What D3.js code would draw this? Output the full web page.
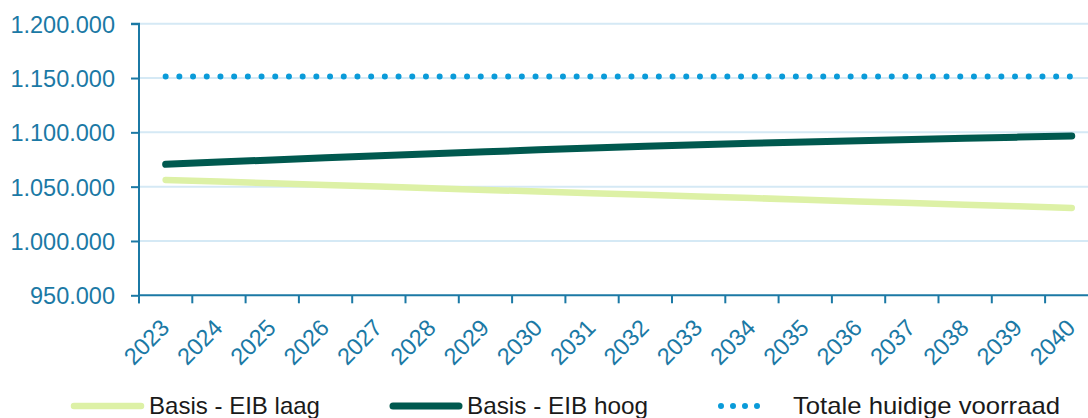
<!DOCTYPE html>
<html>
<head>
<meta charset="utf-8">
<script src="https://cdn.jsdelivr.net/npm/d3@7"></script>
<style>
  html, body { margin: 0; padding: 0; background: #fff; }
  svg { display: block; font-family: "Liberation Sans", Arial, sans-serif; }
</style>
</head>
<body>
<svg id="chart" width="1088" height="418"></svg>
<script>
// Years on the horizontal axis
const years = ["2023","2024","2025","2026","2027","2028","2029","2030","2031","2032",
               "2033","2034","2035","2036","2037","2038","2039","2040"];

// Projected demand, low scenario
const basisLaag = [1056200, 1054700, 1053100, 1051600, 1050100, 1048600, 1047000, 1045500, 1044000,
                   1042500, 1041000, 1039500, 1038000, 1036400, 1034900, 1033400, 1031900, 1030400];

// Projected demand, high scenario
const basisHoog = [1070600, 1072600, 1074600, 1076500, 1078400, 1080300, 1082100, 1083900, 1085600,
                   1087300, 1088600, 1089900, 1091100, 1092300, 1093400, 1094500, 1095600, 1096600];

// Current total stock
const totaleVoorraad = [1151500, 1151500, 1151500, 1151500, 1151500, 1151500, 1151500, 1151500, 1151500,
                        1151500, 1151500, 1151500, 1151500, 1151500, 1151500, 1151500, 1151500, 1151500];

const yTicks = [950000, 1000000, 1050000, 1100000, 1150000, 1200000];

const seriesNames = ["Basis - EIB laag", "Basis - EIB hoog", "Totale huidige voorraad"];

const axisColor = "#1b79a5";
const gridColor = "#d5e9f5";
const colLaag = "#ddf1a6";
const colHoog = "#00594f";
const colVoorraad = "#0a9bd9";

const svg = d3.select("#chart");

const plotLeft = 139, plotTop = 23.7, plotBottom = 295.3, step = 53.3;

const x = d3.scaleBand().domain(years).range([plotLeft, plotLeft + step * years.length]).padding(0);
const y = d3.scaleLinear().domain([950000, 1200000]).range([plotBottom, plotTop]);

const fmt = v => d3.format(",")(v).replace(/,/g, ".");

// horizontal gridlines
svg.append("g").selectAll("line").data(yTicks.slice(1)).join("line")
  .attr("x1", plotLeft).attr("x2", 1088)
  .attr("y1", d => y(d)).attr("y2", d => y(d))
  .attr("stroke", gridColor).attr("stroke-width", 2);

// y axis
const yAxis = svg.append("g").attr("transform", `translate(${plotLeft},0)`)
  .call(d3.axisLeft(y).tickValues(yTicks).tickFormat(fmt).tickSize(8).tickPadding(16));
yAxis.select(".domain").attr("stroke", axisColor).attr("stroke-width", 2)
  .attr("d", `M-8,${plotTop}H0V${plotBottom + 8}`);
yAxis.selectAll(".tick line").attr("stroke", axisColor).attr("stroke-width", 2);
yAxis.selectAll(".tick text").attr("fill", axisColor).attr("font-size", 23.5).attr("dy", "0.36em");

// x axis with ticks on category boundaries
const xg = svg.append("g").attr("transform", `translate(0,${plotBottom})`);
xg.append("line").attr("x1", plotLeft).attr("x2", 1100).attr("y1", 0).attr("y2", 0)
  .attr("stroke", axisColor).attr("stroke-width", 2);
const bounds = years.map(d => x(d)).concat([x(years[years.length - 1]) + x.bandwidth()]);
xg.selectAll("line.tk").data(bounds).join("line").attr("class", "tk")
  .attr("x1", d => d).attr("x2", d => d).attr("y1", 0).attr("y2", 8)
  .attr("stroke", axisColor).attr("stroke-width", 2);
xg.selectAll("text").data(years).join("text")
  .attr("transform", d => `translate(${x(d) + x.bandwidth() / 2 + 5},34) rotate(-45)`)
  .attr("text-anchor", "end")
  .attr("fill", axisColor).attr("font-size", 23.5)
  .text(d => d);

const cx = d => x(d) + x.bandwidth() / 2;
const line = d3.line().x((d, i) => cx(years[i])).y(d => y(d));

// series lines
svg.append("path").datum(totaleVoorraad).attr("d", line)
  .attr("fill", "none").attr("stroke", colVoorraad).attr("stroke-width", 6)
  .attr("stroke-linecap", "round").attr("stroke-dasharray", "0 13.7");
svg.append("path").datum(basisLaag).attr("d", line)
  .attr("fill", "none").attr("stroke", colLaag).attr("stroke-width", 6.5)
  .attr("stroke-linecap", "round").attr("stroke-linejoin", "round");
svg.append("path").datum(basisHoog).attr("d", line)
  .attr("fill", "none").attr("stroke", colHoog).attr("stroke-width", 7)
  .attr("stroke-linecap", "round").attr("stroke-linejoin", "round");

// legend
const legendY = 406;
const legendItems = [
  { name: seriesNames[0], color: colLaag, x0: 74, x1: 141, tx: 149, tw: 171, dash: null, w: 6.5 },
  { name: seriesNames[1], color: colHoog, x0: 393, x1: 459, tx: 467, tw: 181, dash: null, w: 7 },
  { name: seriesNames[2], color: colVoorraad, x0: 721, x1: 769, tx: 793, tw: 267, dash: "0 12", w: 6 }
];
const lg = svg.append("g").selectAll("g").data(legendItems).join("g");
lg.append("line")
  .attr("x1", d => d.x0).attr("x2", d => d.x1).attr("y1", legendY).attr("y2", legendY)
  .attr("stroke", d => d.color).attr("stroke-width", d => d.w)
  .attr("stroke-linecap", "round").attr("stroke-dasharray", d => d.dash);
lg.append("text")
  .attr("x", d => d.tx).attr("y", 413.5)
  .attr("font-size", 24).attr("fill", "#1a1a1a")
  .attr("textLength", d => d.tw).attr("lengthAdjust", "spacingAndGlyphs")
  .text(d => d.name);
</script>
</body>
</html>
